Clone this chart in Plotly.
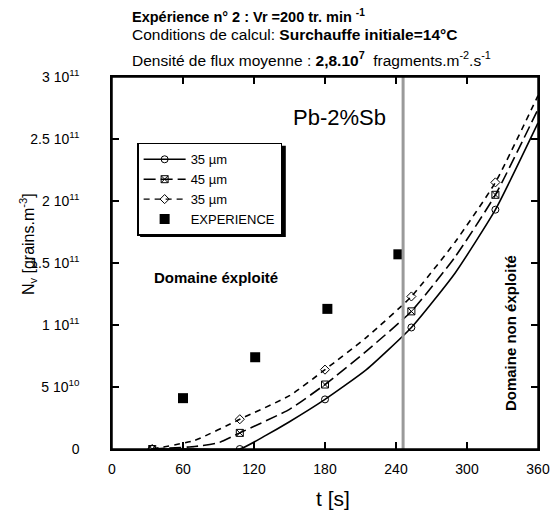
import plotly.graph_objects as go

# temps [s] et densité de grains (x 1e11)
t_35 = [34, 70, 108, 130, 150, 180, 215, 253, 290, 324, 360]
nv_35 = [0, 0, 0, 0.11, 0.22, 0.40, 0.64, 0.98, 1.42, 1.93, 2.63]
t_35_pts = [34, 108, 180, 253, 324]
nv_35_pts = [0, 0, 0.40, 0.98, 1.93]

t_45 = [34, 70, 90, 108, 150, 180, 215, 253, 290, 324, 360]
nv_45 = [0, 0.02, 0.05, 0.13, 0.32, 0.52, 0.79, 1.11, 1.55, 2.05, 2.74]
t_45_pts = [34, 108, 180, 253, 324]
nv_45_pts = [0, 0.13, 0.52, 1.11, 2.05]

t_35b = [34, 70, 108, 150, 180, 215, 253, 290, 324, 360]
nv_35b = [0, 0.07, 0.24, 0.43, 0.64, 0.90, 1.23, 1.67, 2.15, 2.85]
t_35b_pts = [34, 108, 180, 253, 324]
nv_35b_pts = [0, 0.24, 0.64, 1.23, 2.15]

t_exp = [60, 121, 182, 242]
nv_exp = [0.41, 0.74, 1.13, 1.57]

t_limite = 246

y_ticks = [0, 0.5, 1, 1.5, 2, 2.5, 3]
y_labels = ['0', '5 10<sup>10</sup>', '1 10<sup>11</sup>', '1.5 10<sup>11</sup>',
            '2 10<sup>11</sup>', '2.5 10<sup>11</sup>', '3 10<sup>11</sup>']
x_ticks = [0, 60, 120, 180, 240, 300, 360]

E = 1e11
FONT = 'Liberation Sans, Arial, sans-serif'

fig = go.Figure()

series = [
    (t_35, nv_35, t_35_pts, nv_35_pts, 'solid', 'circle-open', '35 µm'),
    (t_45, nv_45, t_45_pts, nv_45_pts, '12px,5px', 'square-x-open', '45 µm'),
    (t_35b, nv_35b, t_35b_pts, nv_35b_pts, '6px,5px', 'diamond-open', '35 µm'),
]
for tx, ny, tp, npts, dash, sym, nom in series:
    ligne = dict(color='black', width=1.6, dash=dash, shape='spline', smoothing=0.5)
    mk = dict(symbol=sym, size=7, color='black', line=dict(width=1))
    fig.add_trace(go.Scatter(x=tx, y=[v * E for v in ny], mode='lines', line=ligne,
                             showlegend=False))
    fig.add_trace(go.Scatter(x=tp, y=[v * E for v in npts], mode='markers', marker=mk,
                             showlegend=False))
    # entrée de légende seule
    fig.add_trace(go.Scatter(x=[None], y=[None], mode='lines+markers', name=nom,
                             line=dict(color='black', width=1.4, dash=dash), marker=mk))

fig.add_trace(go.Scatter(
    x=t_exp, y=[v * E for v in nv_exp], mode='markers', name='EXPERIENCE',
    marker=dict(symbol='square', size=10, color='black')))

# limite du domaine exploité
fig.add_shape(type='line', x0=t_limite, x1=t_limite, y0=0, y1=1, yref='y domain',
              line=dict(color='#9a9a9a', width=3), layer='above')

# cadre et graduations
noir = dict(color='black', width=1.5)
fig.add_shape(type='rect', xref='x domain', yref='y domain', x0=0, x1=1, y0=0, y1=1,
              line=noir, layer='above')
for t in x_ticks[1:-1]:
    for ancre, sens in [(0, 7), (1, -7)]:
        fig.add_shape(type='line', xref='x', yref='y domain', x0=t, x1=t,
                      ysizemode='pixel', yanchor=ancre, y0=0, y1=sens, line=noir, layer='above')
for v in y_ticks[1:-1]:
    for ancre, sens in [(0, 7), (1, -7)]:
        fig.add_shape(type='line', xref='x domain', yref='y', y0=v * E, y1=v * E,
                      xsizemode='pixel', xanchor=ancre, x0=0, x1=sens, line=noir, layer='above')

axe = dict(showline=True, linecolor='black', linewidth=1.5, mirror='ticks',
           ticks='inside', ticklen=7, tickwidth=1.5, tickcolor='black',
           showgrid=False, zeroline=False, automargin=False,
           tickfont=dict(family=FONT, size=14, color='black'))

fig.update_xaxes(range=[0, 360], tickvals=x_ticks, ticklabelstandoff=6, **axe)
fig.update_yaxes(range=[0, 3 * E], tickvals=[v * E for v in y_ticks], ticktext=y_labels,
                 ticklabelstandoff=28, **axe)

def txt(x, y, s, size=14, xanchor='center', **kw):
    fig.add_annotation(x=x, y=y, xref='paper', yref='paper', text=s, showarrow=False,
                       xanchor=xanchor, yanchor='middle',
                       font=dict(family=FONT, size=size, color='black'), **kw)

txt(0.042, 1.164, '<b>Expérience n° 2 : Vr =200 tr. min <sup>-1</sup></b>', size=14.5, xanchor='left')
txt(0.042, 1.113, 'Conditions de calcul: <b>Surchauffe initiale=14°C</b>', size=15.5, xanchor='left')
txt(0.042, 1.048, 'Densité de flux moyenne : <b>2,8.10<sup>7</sup></b>  fragments.m<sup>-2</sup>.s<sup>-1</sup>',
    size=15.5, xanchor='left')

txt(0.533, 0.892, 'Pb-2%Sb', size=22)
txt(0.244, 0.460, '<b>Domaine éxploité</b>', size=15)
txt(0.937, 0.312, '<b>Domaine non éxploité</b>', size=15, textangle=-90)
txt(-0.197, 0.551, 'N<sub>v</sub> [grains.m<sup>-3</sup>]', size=16, textangle=-90)
txt(0.519, -0.132, 't [s]', size=21)

# ombre de la légende
fig.add_shape(type='rect', xref='paper', yref='paper',
              x0=0.066, x1=0.408, y0=0.570, y1=0.815,
              fillcolor='black', line=dict(width=0), layer='above')

fig.update_layout(
    width=555, height=517,
    margin=dict(l=112, r=17, t=77, b=68, autoexpand=False),
    paper_bgcolor='white', plot_bgcolor='white',
    font=dict(family=FONT, color='black'),
    showlegend=True,
    legend=dict(x=0.059, y=0.823, xanchor='left', yanchor='top',
                bgcolor='white', bordercolor='black', borderwidth=1.5,
                font=dict(family=FONT, size=13, color='black'),
                tracegroupgap=0, itemwidth=42),
)

fig.write_html('out.html', config={'displayModeBar': False},
               post_script="document.body.style.margin='0';")
